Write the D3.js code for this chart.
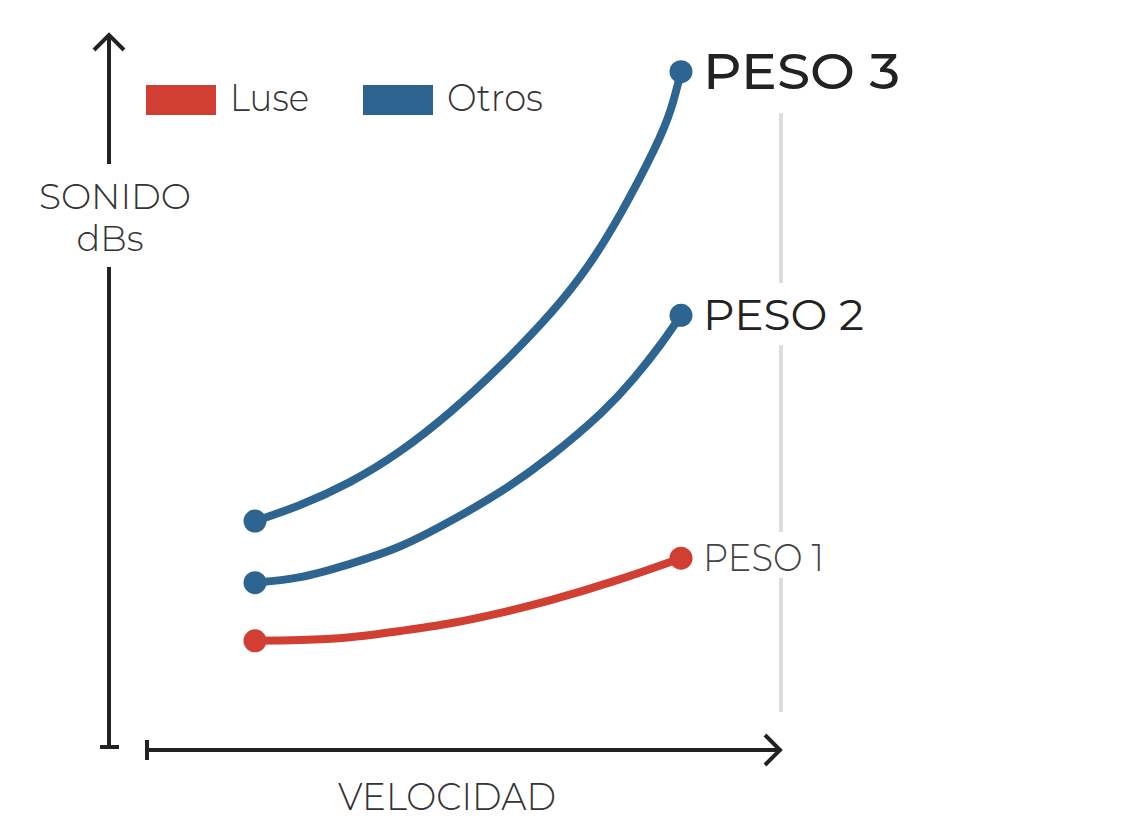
<!DOCTYPE html>
<html><head><meta charset="utf-8">
<script src="https://cdn.jsdelivr.net/npm/d3@7"></script>
<style>
html,body{margin:0;padding:0;background:#fff;}
svg{display:block;}
text{font-family:"Montserrat","Lato","Open Sans",sans-serif;}
</style></head>
<body>
<script>
// ---- data ----
const seriesNames = ["PESO 3", "PESO 2", "PESO 1"];
const seriesGroup = ["Otros", "Otros", "Luse"];
const peso3X = [10, 19, 29, 39, 49, 59, 69, 76.4, 83, 89.6, 93, 95];
const peso3Y = [32.7, 35.0, 38.3, 42.7, 48.3, 54.9, 62.4, 69.1, 76.7, 85.7, 91.6, 96.9];
const peso2X = [10, 19, 29, 39, 49, 59, 69, 79, 85.6, 91, 95];
const peso2Y = [23.9, 24.7, 26.6, 29.1, 32.7, 36.9, 42.0, 48.1, 53.1, 58.0, 62.1];
const peso1X = [10, 19, 29, 39, 49, 59, 69, 82.4, 95];
const peso1Y = [15.6, 15.7, 16.1, 17.0, 18.1, 19.6, 21.4, 24.3, 27.4];
const legendNames = ["Luse", "Otros"];
const legendColors = ["#d03f31", "#2d6590"];
const axisLabelX = "VELOCIDAD";
const axisLabelY = ["SONIDO", "dBs"];

const W = 1124, H = 828;
const svg = d3.select("body").append("svg").attr("width", W).attr("height", H);

const x = d3.scaleLinear().domain([10, 95]).range([255, 681]);
const y = d3.scaleLinear().domain([0, 100]).range([750, 50]);
const color = d3.scaleOrdinal().domain(legendNames).range(legendColors);

const ink = "#222";

// ---- reference (gray) line ----
const gx = 781;
[[113, 283], [345, 532], [578, 712]].forEach(([a, b]) => {
  svg.append("line").attr("x1", gx).attr("x2", gx).attr("y1", a).attr("y2", b)
    .attr("stroke", "#dddddf").attr("stroke-width", 4);
});

// ---- axes ----
const ax = svg.append("g").attr("stroke", ink).attr("stroke-width", 4).attr("fill", "none");
const yx = 109;
ax.append("line").attr("x1", yx).attr("x2", yx).attr("y1", 35).attr("y2", 164);
ax.append("line").attr("x1", yx).attr("x2", yx).attr("y1", 267).attr("y2", 747);
ax.append("line").attr("x1", 100).attr("x2", 119).attr("y1", 747).attr("y2", 747);
ax.append("path").attr("d", `M${yx-15},${50} L${yx},${35} L${yx+15},${50}`);
const xy = 750;
ax.append("line").attr("x1", 147).attr("x2", 779).attr("y1", xy).attr("y2", xy);
ax.append("line").attr("x1", 147).attr("x2", 147).attr("y1", 740).attr("y2", 760);
ax.append("path").attr("d", `M${765},${xy-15} L${780},${xy} L${765},${xy+15}`);

// axis labels
svg.append("text").attr("x", 447).attr("y", 810).attr("text-anchor", "middle")
  .attr("font-size", 38).attr("font-weight", 300).attr("fill", "#333")
  .attr("textLength", 218).attr("lengthAdjust", "spacingAndGlyphs").text(axisLabelX);
svg.append("text").attr("x", 115).attr("y", 209).attr("text-anchor", "middle")
  .attr("font-size", 36).attr("font-weight", 300).attr("fill", "#333")
  .attr("textLength", 152).attr("lengthAdjust", "spacingAndGlyphs").text(axisLabelY[0]);
svg.append("text").attr("x", 110).attr("y", 251).attr("text-anchor", "middle")
  .attr("font-size", 36).attr("font-weight", 300).attr("fill", "#333")
  .attr("textLength", 67).attr("lengthAdjust", "spacingAndGlyphs").text(axisLabelY[1]);

// ---- legend ----
const legX = [146, 363], legW = [79, 96];
legendNames.forEach((n, i) => {
  svg.append("rect").attr("x", legX[i]).attr("y", 85).attr("width", 70).attr("height", 30)
    .attr("fill", color(n));
  svg.append("text").attr("x", legX[i] + 84).attr("y", 111)
    .attr("font-size", 37).attr("font-weight", 300).attr("fill", "#333")
    .attr("textLength", legW[i]).attr("lengthAdjust", "spacingAndGlyphs").text(n);
});

// ---- series ----
const allSeries = [[peso3X, peso3Y], [peso2X, peso2Y], [peso1X, peso1Y]];
const line = d3.line().x(d => x(d[0])).y(d => y(d[1])).curve(d3.curveNatural);
const labelStyle = [
  {size: 50, weight: 500, fill: "#222", len: 197},
  {size: 44, weight: 400, fill: "#222", len: 161},
  {size: 37, weight: 300, fill: "#444", len: 121}
];
allSeries.forEach(([xs, ys], k) => {
  const c = color(seriesGroup[k]);
  const pts = xs.map((v, i) => [v, ys[i]]);
  svg.append("path").datum(pts).attr("d", line).attr("fill", "none")
    .attr("stroke", c).attr("stroke-width", 8);
  [pts[0], pts[pts.length - 1]].forEach(p => {
    svg.append("circle").attr("cx", x(p[0])).attr("cy", y(p[1])).attr("r", 11.5).attr("fill", c);
  });
  const st = labelStyle[k];
  const last = pts[pts.length - 1];
  svg.append("text").attr("x", x(last[0]) + 22).attr("y", y(last[1]) + st.size * 0.34)
    .attr("font-size", st.size).attr("font-weight", st.weight).attr("fill", st.fill)
    .attr("textLength", st.len).attr("lengthAdjust", "spacingAndGlyphs").text(seriesNames[k]);
});
</script>
</body></html>
